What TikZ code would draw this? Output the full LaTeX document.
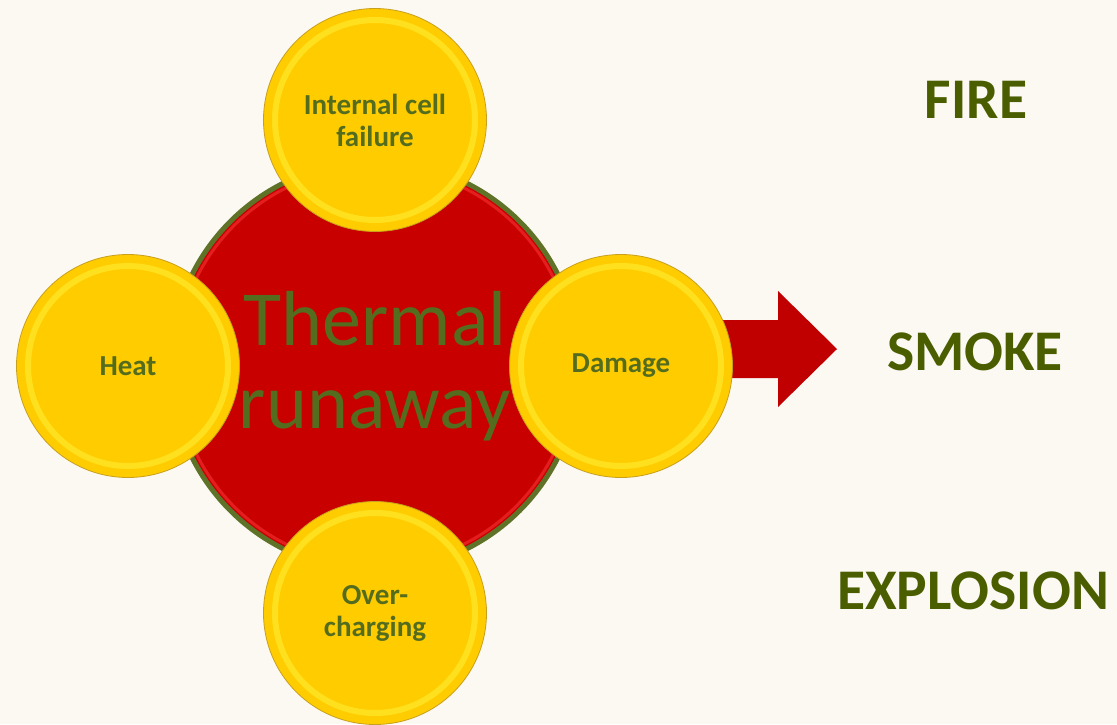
\documentclass[tikz,border=0pt]{standalone}
\usepackage{fontspec}
\setmainfont{Carlito}
\usepackage{xcolor}
\usetikzlibrary{positioning}
\definecolor{cream}{RGB}{252,248,242}
\definecolor{runred}{RGB}{200,0,0}
\definecolor{arrowred}{RGB}{192,0,0}
\definecolor{glowred}{RGB}{228,30,30}
\definecolor{olivering}{RGB}{95,115,40}
\definecolor{leaf}{RGB}{84,108,30}
\definecolor{olivedark}{RGB}{74,94,0}
\definecolor{gold}{RGB}{255,204,0}
\definecolor{goldrim}{RGB}{255,224,30}
\definecolor{goldedge}{RGB}{200,160,30}

\begin{document}
\begin{tikzpicture}[x=1pt, y=-1pt,
  core/.style={circle, minimum size=409pt, inner sep=0pt, fill=runred, draw=olivering,
    line width=5pt, text=leaf, align=center, font=\fontsize{78}{83}\selectfont},
  coin/.style={circle, minimum size=223pt, inner sep=0pt, fill=gold, draw=goldedge,
    line width=0.8pt, text=leaf, align=center, font=\fontsize{29}{32}\selectfont\bfseries},
  rim/.style={goldrim, line width=6pt},
  outcome/.style={text=olivedark, font=\fontsize{57.5}{60}\selectfont\bfseries}]
  \useasboundingbox (0,0) rectangle (1117,724);
  \fill[cream] (0,0) rectangle (1117,724);

  % Block arrow towards the outcomes
  \fill[arrowred] (700,320) -- (778,320) -- (778,291) -- (837,349)
    -- (778,407) -- (778,378) -- (700,378) -- cycle;

  % Thermal runaway
  \node[core] (runaway) at (375,366) {Thermal\\runaway};
  \draw[glowred, line width=3pt] (runaway.center) circle (199);

  % Causes
  \node[coin] (cellfail) at (375,120) {Internal cell\\failure};
  \node[coin] (heat) at (128,366) {Heat};
  \node[coin] (damage) at (621,366) {Damage};
  \node[coin] (overcharge) at (375,613) {Over-\\charging};
  \foreach \c in {cellfail, heat, damage, overcharge}
    \draw[rim] (\c.center) circle (100);

  % Outcomes
  \node[outcome] (fire) at (976,100) {FIRE};
  \node[outcome] (smoke) at (975,352) {SMOKE};
  \node[outcome] (explosion) at (973,591) {EXPLOSION};
\end{tikzpicture}
\end{document}
